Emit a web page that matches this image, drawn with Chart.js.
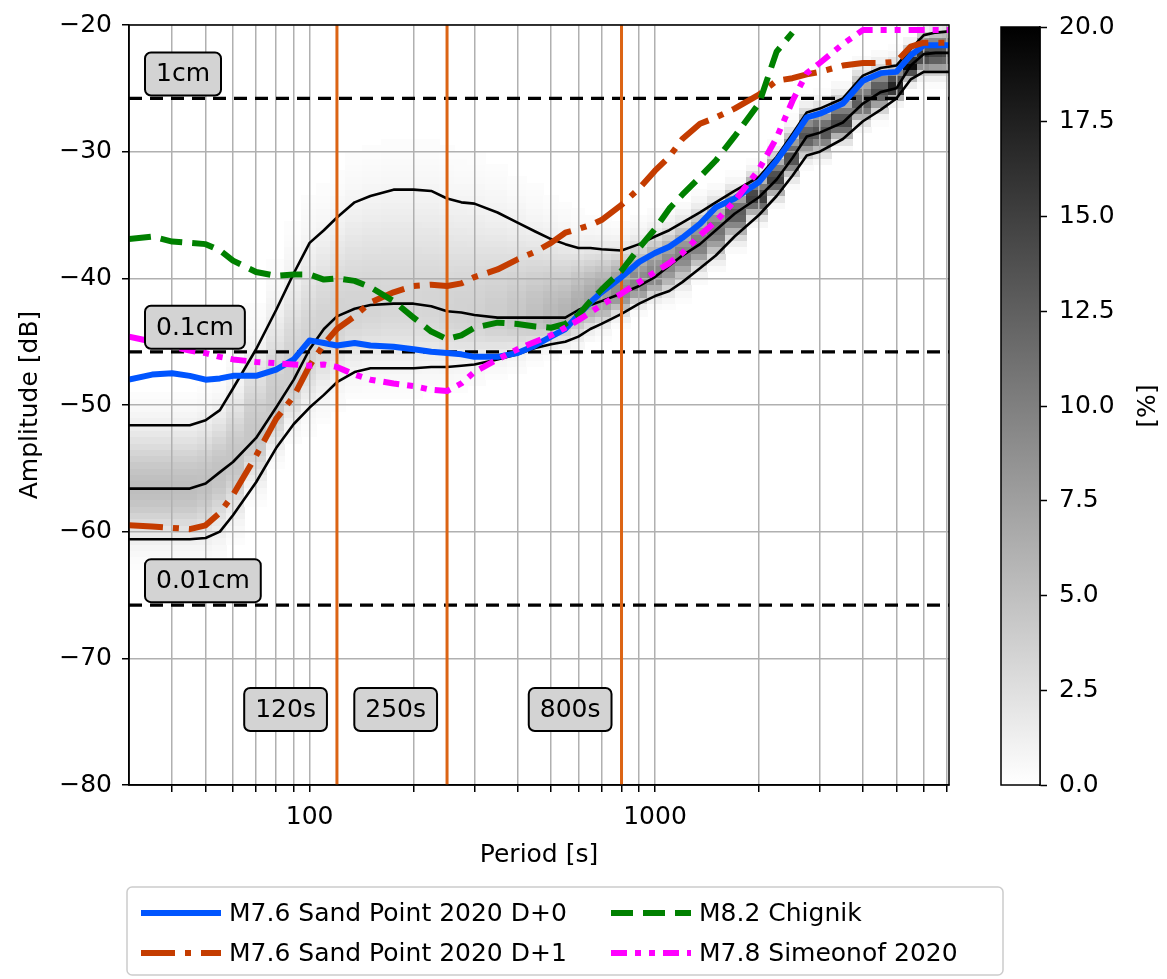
<!DOCTYPE html>
<html>
<head>
<meta charset="utf-8">
<script src="https://cdn.jsdelivr.net/npm/chart.js@4.4.1/dist/chart.umd.min.js"></script>
<style>
  html, body { margin: 0; padding: 0; background: #fff; }
  #wrap { position: relative; width: 1167px; height: 979px; overflow: hidden; }
  #main { position: absolute; left: 0; top: 0; }
  #cbar { position: absolute; left: 990px; top: 0; }
</style>
</head>
<body>
<div id="wrap">
  <canvas id="main" width="1167" height="979"></canvas>
  <canvas id="cbar" width="177" height="979"></canvas>
</div>
<script>
// period grid [s] shared by all curves
const periods = [30, 35, 40, 45, 50, 55, 60, 70, 80, 90,
  100, 110, 120, 135, 150, 175, 200, 225, 250, 275,
  300, 350, 400, 450, 500, 550, 600, 650, 700, 800,
  900, 1000, 1100, 1200, 1350, 1500, 1700, 2000, 2250, 2500,
  2750, 3000, 3500, 4000, 4500, 5000, 5500, 6000, 6500, 7100];

// percentile curves of the background distribution [dB]
const pctHigh = [-51.6, -51.6, -51.6, -51.6, -51.2, -50.4, -48.7, -45.6, -42.5, -39.6,
  -37.2, -36.2, -35.2, -34.0, -33.5, -33.0, -33.0, -33.1, -33.7, -34.0,
  -34.1, -34.8, -35.6, -36.3, -36.9, -37.3, -37.6, -37.6, -37.7, -37.8,
  -37.3, -36.7, -36.2, -35.6, -34.8, -34.0, -33.1, -32.0, -30.4, -28.6,
  -26.9, -26.6, -25.8, -24.0, -23.4, -23.2, -21.9, -20.8, -20.6, -20.5];
const pctMedian = [-56.6, -56.6, -56.6, -56.6, -56.2, -55.3, -54.5, -52.6, -50.2, -48.0,
  -45.6, -44.0, -43.0, -42.4, -42.1, -42.0, -42.0, -42.2, -42.6, -42.7,
  -42.9, -43.1, -43.1, -43.1, -43.1, -43.1, -42.5, -42.1, -41.8, -41.2,
  -40.6, -39.9, -39.0, -38.2, -37.3, -36.2, -34.9, -33.6, -32.2, -30.5,
  -28.8, -28.5, -27.7, -26.2, -25.3, -25.0, -23.2, -22.3, -22.2, -22.2];
const pctLow = [-60.6, -60.6, -60.6, -60.6, -60.5, -60.0, -58.7, -56.1, -53.4, -51.5,
  -50.2, -49.2, -48.2, -47.4, -47.1, -47.1, -47.1, -47.0, -47.0, -46.9,
  -46.8, -46.4, -46.0, -45.5, -45.2, -45.0, -44.6, -44.0, -43.6, -42.8,
  -42.0, -41.4, -41.0, -40.3, -39.2, -38.2, -36.7, -35.0, -33.5, -31.9,
  -30.3, -30.0, -29.0, -27.6, -26.7, -25.8, -24.3, -23.7, -23.7, -23.7];

// event spectra [dB]
const sandPointD0 = [-48.0, -47.6, -47.5, -47.7, -48.0, -47.9, -47.7, -47.7, -47.2, -46.4,
  -44.9, -45.1, -45.3, -45.1, -45.3, -45.4, -45.6, -45.8, -45.9, -46.0,
  -46.2, -46.2, -45.9, -45.3, -44.6, -44.0, -42.9, -41.9, -41.1, -39.9,
  -38.7, -38.0, -37.5, -36.8, -35.7, -34.4, -33.7, -32.4, -30.7, -29.0,
  -27.3, -27.0, -26.2, -24.4, -23.8, -23.7, -22.4, -21.6, -21.6, -21.6];
const sandPointD1 = [-59.5, -59.6, -59.7, -59.8, -59.5, -58.5, -57.1, -54.0, -51.1, -49.3,
  -46.9, -45.2, -44.0, -43.0, -41.9, -41.1, -40.6, -40.5, -40.6, -40.4,
  -39.9, -39.3, -38.5, -37.9, -37.2, -36.4, -36.1, -35.8, -35.4, -34.2,
  -32.9, -31.5, -30.4, -29.0, -27.8, -27.3, -26.6, -25.5, -24.4, -24.2,
  -23.9, -23.7, -23.2, -23.0, -23.0, -22.9, -21.7, -21.4, -21.4, -21.4];
const chignik = [-36.9, -36.7, -37.1, -37.2, -37.3, -37.8, -38.6, -39.5, -39.8, -39.7,
  -39.7, -40.1, -40.0, -40.2, -40.7, -41.8, -43.1, -44.2, -44.8, -44.5,
  -43.9, -43.5, -43.6, -43.8, -43.9, -43.6, -42.9, -41.8, -40.9, -39.4,
  -37.6, -36.1, -34.5, -33.4, -32.0, -30.7, -28.8, -26.2, -22.1, -20.6,
  null, null, null, null, null, null, null, null, null, null];
const simeonof = [-44.6, -45.0, -45.4, -45.7, -45.9, -46.2, -46.4, -46.6, -46.7, -46.8,
  -46.9, -46.8, -47.0, -47.6, -48.0, -48.3, -48.5, -48.8, -48.9, -48.3,
  -47.4, -46.4, -45.6, -45.0, -44.5, -43.9, -43.3, -42.7, -42.1, -41.2,
  -40.3, -39.5, -38.8, -38.0, -36.6, -35.5, -33.9, -31.4, -28.9, -26.0,
  -23.8, -23.0, -21.5, -20.4, -20.4, -20.4, -20.4, -20.4, -20.4, -20.4];

// reference amplitudes and marker periods
const refLevels = [-25.8, -45.8, -65.8];
const refLabels = ['1cm', '0.1cm', '0.01cm'];
const markerPeriods = [120, 250, 800];
const markerLabels = ['120s', '250s', '800s'];
const markerLabelLevel = -74;

// axes
const xGridTicks = [40, 50, 60, 70, 80, 90, 100, 200, 300, 400, 500, 600, 700, 800, 900,
  1000, 2000, 3000, 4000, 5000, 6000, 7000];
const xLabelTicks = [100, 1000];
const cbarMax = 20;

const FONT = 'DejaVu Sans';
const FS = 25;
Chart.defaults.font.family = FONT;
Chart.defaults.font.size = FS;
Chart.defaults.color = '#000';

const toPoints = ys => periods.map((p, i) => ({x: p, y: ys[i]}));
const minus = v => (v < 0 ? '\u2212' + Math.abs(v) : String(v));

const curve = (label, ys, color, width, dash, inLegend) => ({
  label, data: toPoints(ys), borderColor: color, borderWidth: width, borderDash: dash,
  pointRadius: 0, fill: false, tension: 0, borderCapStyle: 'butt', borderJoinStyle: 'round',
  inLegend
});

const events = [
  curve('M7.8 Simeonof 2020', simeonof, '#ff00ff', 6, [16, 8, 6, 8, 6, 8], true),
  curve('M8.2 Chignik', chignik, '#008000', 6, [22, 10], true),
  curve('M7.6 Sand Point 2020 D+1', sandPointD1, '#c43c00', 6, [34, 10, 6, 10], true),
  curve('M7.6 Sand Point 2020 D+0', sandPointD0, '#0055ff', 6, [], true)
];
const legendOrder = ['M7.6 Sand Point 2020 D+0', 'M7.6 Sand Point 2020 D+1',
  'M8.2 Chignik', 'M7.8 Simeonof 2020'];

const markers = markerPeriods.map(p => ({
  label: p + 's', data: [{x: p, y: -80}, {x: p, y: -20}], borderColor: '#dc6414',
  borderWidth: 3, pointRadius: 0, fill: false
}));
const refs = refLevels.map(l => ({
  label: 'ref', data: [{x: periods[0], y: l}, {x: periods[periods.length - 1], y: l}],
  borderColor: '#000', borderWidth: 3.2, borderDash: [13, 8], pointRadius: 0, fill: false
}));
const pctLines = [pctHigh, pctMedian, pctLow].map(ys => curve('pct', ys, '#000', 2.6, [], false));

// background probability shading built from the percentile curves
const binDb = 0.5;
const shadeGain = 35;
const shadePlugin = {
  id: 'shade',
  beforeDraw(chart) {
    const {ctx, chartArea: a, scales: {x, y}} = chart;
    ctx.save();
    ctx.fillStyle = '#fff';
    ctx.fillRect(0, 0, chart.width, chart.height);
    ctx.beginPath();
    ctx.rect(a.left, a.top, a.right - a.left, a.bottom - a.top);
    ctx.clip();
    const n = periods.length;
    for (let i = 0; i < n; i++) {
      const pL = i === 0 ? periods[0] : Math.sqrt(periods[i - 1] * periods[i]);
      const pR = i === n - 1 ? periods[n - 1] : Math.sqrt(periods[i] * periods[i + 1]);
      const x0 = Math.floor(x.getPixelForValue(pL));
      const x1 = Math.ceil(x.getPixelForValue(pR));
      const md = pctMedian[i];
      const sLo = Math.max((md - pctLow[i]) / 1.645, 0.5);
      const sHi = Math.max((pctHigh[i] - md) / 1.645, 0.5);
      const norm = 2 / (Math.sqrt(2 * Math.PI) * (sLo + sHi));
      for (let b = -80; b < -20; b += binDb) {
        const c = b + binDb / 2;
        const s = c < md ? sLo : sHi;
        const pct = shadeGain * norm * Math.exp(-0.5 * ((c - md) / s) ** 2);
        if (pct < 0.2) continue;
        const g = Math.round(255 * (1 - Math.min(pct / cbarMax, 1)));
        ctx.fillStyle = `rgb(${g},${g},${g})`;
        const yTop = Math.floor(y.getPixelForValue(b + binDb));
        const yBot = Math.ceil(y.getPixelForValue(b));
        ctx.fillRect(x0, yTop, x1 - x0, yBot - yTop);
      }
    }
    ctx.restore();
  }
};

function tag(ctx, text, left, top) {
  ctx.font = `${FS}px "${FONT}"`;
  const w = ctx.measureText(text).width + 22;
  const h = 43;
  ctx.beginPath();
  ctx.roundRect(left, top, w, h, 6);
  ctx.fillStyle = '#d3d3d3';
  ctx.fill();
  ctx.lineWidth = 2;
  ctx.strokeStyle = '#000';
  ctx.stroke();
  ctx.fillStyle = '#000';
  ctx.textAlign = 'center';
  ctx.textBaseline = 'middle';
  ctx.fillText(text, left + w / 2, top + h / 2 + 1);
  return w;
}

const labelPlugin = {
  id: 'labels',
  afterDatasetsDraw(chart) {
    const {ctx, chartArea: a, scales: {x, y}} = chart;
    ctx.save();
    refLevels.forEach((l, i) => {
      tag(ctx, refLabels[i], a.left + 16, y.getPixelForValue(l) - 46);
    });
    markerPeriods.forEach((p, i) => {
      ctx.font = `${FS}px "${FONT}"`;
      const w = ctx.measureText(markerLabels[i]).width + 22;
      tag(ctx, markerLabels[i], x.getPixelForValue(p) - 10 - w, y.getPixelForValue(markerLabelLevel) - 21);
    });
    ctx.restore();
  },
  afterDraw(chart) {
    const {ctx, chartArea: a} = chart;
    ctx.save();
    ctx.strokeStyle = '#000';
    ctx.lineWidth = 1.5;
    ctx.strokeRect(a.left, a.top, a.right - a.left, a.bottom - a.top);

    // legend box, two columns
    ctx.beginPath();
    ctx.roundRect(127, 887, 876, 88, 5);
    ctx.fillStyle = '#fff';
    ctx.fill();
    ctx.strokeStyle = '#cccccc';
    ctx.lineWidth = 1.5;
    ctx.stroke();
    const cols = [141, 611];
    const rows = [913, 953];
    legendOrder.forEach((name, k) => {
      const ds = chart.data.datasets.find(d => d.label === name);
      const cx = cols[Math.floor(k / 2)];
      const cy = rows[k % 2];
      ctx.beginPath();
      ctx.setLineDash(ds.borderDash || []);
      ctx.lineCap = 'butt';
      ctx.strokeStyle = ds.borderColor;
      ctx.lineWidth = ds.borderWidth;
      ctx.moveTo(cx, cy);
      ctx.lineTo(cx + 80, cy);
      ctx.stroke();
      ctx.setLineDash([]);
      ctx.fillStyle = '#000';
      ctx.font = `${FS}px "${FONT}"`;
      ctx.textAlign = 'left';
      ctx.textBaseline = 'middle';
      ctx.fillText(name, cx + 88, cy + 1);
    });
    ctx.restore();
  }
};

new Chart(document.getElementById('main'), {
  type: 'line',
  data: {datasets: [...events, ...markers, ...refs, ...pctLines]},
  options: {
    responsive: false,
    animation: false,
    events: [],
    layout: {padding: {left: 0, right: 218, top: 20, bottom: 109}},
    plugins: {legend: {display: false}, tooltip: {enabled: false}},
    scales: {
      x: {
        type: 'logarithmic',
        min: 30,
        max: 7100,
        afterBuildTicks: s => { s.ticks = xGridTicks.map(v => ({value: v})); },
        afterFit: s => { s.height = 85; },
        ticks: {
          autoSkip: false, maxRotation: 0, padding: 10,
          callback: v => (xLabelTicks.includes(v) ? String(v) : '')
        },
        grid: {color: '#b0b0b0', lineWidth: 1.5, tickLength: 7, tickColor: '#000', tickWidth: 1.5},
        border: {color: '#000', width: 1.5},
        title: {display: true, text: 'Period [s]', padding: {top: 0, bottom: 0}}
      },
      y: {
        min: -80,
        max: -20,
        afterFit: s => { s.width = 129; },
        ticks: {stepSize: 10, padding: 10, callback: v => minus(v)},
        grid: {color: '#b0b0b0', lineWidth: 1.5, tickLength: 7, tickColor: '#000', tickWidth: 1.5},
        border: {color: '#000', width: 1.5},
        title: {display: true, text: 'Amplitude [dB]', padding: {top: 15, bottom: 0}}
      }
    }
  },
  plugins: [shadePlugin, labelPlugin]
});

// colour bar
const cbarPlugin = {
  id: 'cbarFrame',
  afterDraw(chart) {
    const {ctx, chartArea: a} = chart;
    ctx.save();
    ctx.strokeStyle = '#000';
    ctx.lineWidth = 1.5;
    ctx.strokeRect(a.left, a.top, a.right - a.left, a.bottom - a.top);
    ctx.translate(158, (a.top + a.bottom) / 2);
    ctx.rotate(-Math.PI / 2);
    ctx.font = `${FS}px "${FONT}"`;
    ctx.fillStyle = '#000';
    ctx.textAlign = 'center';
    ctx.textBaseline = 'middle';
    ctx.fillText('[%]', 0, 0);
    ctx.restore();
  }
};

new Chart(document.getElementById('cbar'), {
  type: 'bar',
  data: {
    labels: [''],
    datasets: [{
      data: [cbarMax],
      barPercentage: 1,
      categoryPercentage: 1,
      borderWidth: 0,
      backgroundColor: c => {
        const a = c.chart.chartArea;
        if (!a) return '#888';
        const g = c.chart.ctx.createLinearGradient(0, a.bottom, 0, a.top);
        g.addColorStop(0, '#ffffff');
        g.addColorStop(1, '#000000');
        return g;
      }
    }]
  },
  options: {
    responsive: false,
    animation: false,
    events: [],
    layout: {padding: {left: 11, right: 0, top: 20, bottom: 194}},
    plugins: {legend: {display: false}, tooltip: {enabled: false}},
    scales: {
      x: {display: false},
      y: {
        position: 'right',
        min: 0,
        max: cbarMax,
        afterFit: s => { s.width = 127; },
        ticks: {stepSize: 2.5, padding: 12, callback: v => v.toFixed(1)},
        grid: {drawOnChartArea: false, tickLength: 7, tickColor: '#000', tickWidth: 1.5},
        border: {color: '#000', width: 1.5}
      }
    }
  },
  plugins: [cbarPlugin]
});
</script>
</body>
</html>
